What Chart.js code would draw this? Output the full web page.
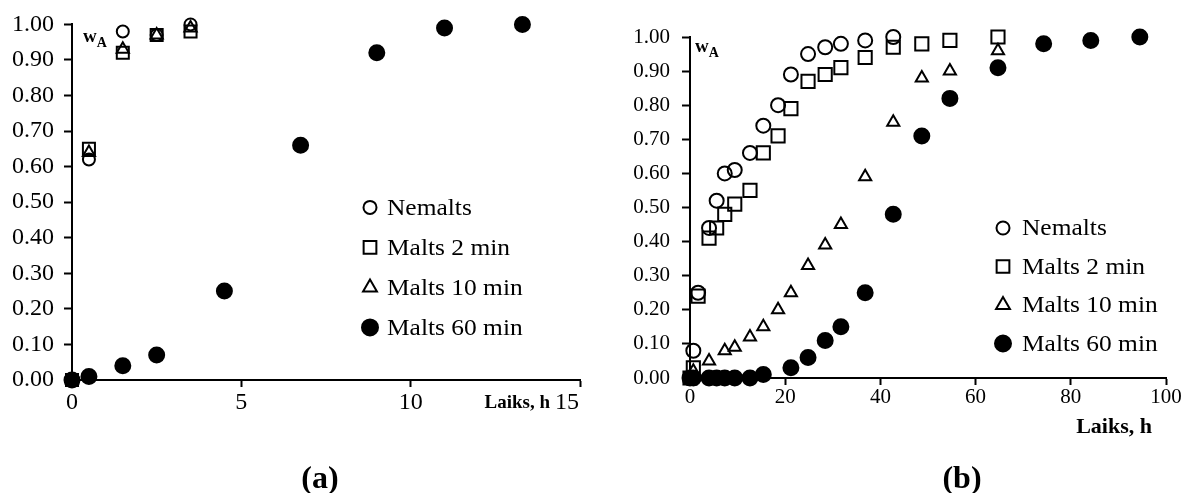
<!DOCTYPE html>
<html>
<head>
<meta charset="utf-8">
<title>Laiks, h</title>
<script src="https://cdn.jsdelivr.net/npm/chart.js@4.4.1/dist/chart.umd.min.js"></script>
<style>
  body { margin: 0; background: #fff; }
  #wrap { position: relative; width: 1185px; height: 493px; overflow: hidden; }
  .panel { position: absolute; top: 0; height: 493px; }
  #panelA { left: 0; width: 600px; }
  #panelB { left: 600px; width: 585px; }
  .caption {
    position: absolute; top: 477px; transform: translate(-50%, -50%);
    font: bold 32px "Liberation Serif", "Times New Roman", serif; color: #000;
  }
</style>
</head>
<body>
<div id="wrap">
  <div class="panel" id="panelA"><canvas id="chartA"></canvas></div>
  <div class="panel" id="panelB"><canvas id="chartB"></canvas></div>
  <div class="caption" style="left:320px">(a)</div>
  <div class="caption" style="left:962px">(b)</div>
</div>
<script>
const seriesNames = ["Nemalts", "Malts 2 min", "Malts 10 min", "Malts 60 min"];

// (a) laiks, h
const timeA = [0, 0.5, 1.5, 2.5, 3.5, 4.5, 6.75, 9, 11, 13.3];
const nemaltsA = [0, 0.62, 0.98, 0.97, 1.00, null, null, null, null, null];
const malts2A = [0, 0.65, 0.92, 0.97, 0.98, null, null, null, null, null];
const malts10A = [0, 0.64, 0.93, 0.97, 0.99, null, null, null, null, null];
const malts60A = [0, 0.01, 0.04, 0.07, null, 0.25, 0.66, 0.92, 0.99, 1.00];

// (b) laiks, h
const timeB = [0, 0.7, 1.7, 4, 5.6, 7.3, 9.4, 12.6, 15.4, 18.5, 21.2, 24.8, 28.4, 31.7, 36.8, 42.7, 48.7, 54.6, 64.7, 74.3, 84.2, 94.5];
const nemaltsB = [0, 0.08, 0.25, 0.44, 0.52, 0.60, 0.61, 0.66, 0.74, 0.80, 0.89, 0.95, 0.97, 0.98, 0.99, 1.00, null, null, null, null, null, null];
const malts2B = [0, 0.03, 0.24, 0.41, 0.44, 0.48, 0.51, 0.55, 0.66, 0.71, 0.79, 0.87, 0.89, 0.91, 0.94, 0.97, 0.98, 0.99, 1.00, null, null, null];
const malts10B = [0, 0.02, null, 0.05, null, 0.08, 0.09, 0.12, 0.15, 0.20, 0.25, 0.33, 0.39, 0.45, 0.59, 0.75, 0.88, 0.90, 0.96, null, null, null];
const malts60B = [0, 0, null, 0, 0, 0, 0, 0, 0.01, null, 0.03, 0.06, 0.11, 0.15, 0.25, 0.48, 0.71, 0.82, 0.91, 0.98, 0.99, 1.00];

const serif = '"Liberation Serif", "Times New Roman", serif';
const markers = [
  { pointStyle: "circle", fill: "rgba(0,0,0,0)" },
  { pointStyle: "rect", fill: "rgba(0,0,0,0)" },
  { pointStyle: "triangle", fill: "rgba(0,0,0,0)" },
  { pointStyle: "circle", fill: "#000" },
];

// w_A label, x-axis title and the legend drawn inside the plot
const notes = {
  id: "notes",
  afterDraw(chart, args, o) {
    const ctx = chart.ctx, a = chart.chartArea;
    ctx.save();
    ctx.fillStyle = "#000";
    ctx.textBaseline = "middle";
    ctx.textAlign = "left";
    ctx.font = "bold " + o.wSize + "px " + serif;
    ctx.fillText("w", a.left + o.wA[0], a.top + o.wA[1]);
    const ww = ctx.measureText("w").width;
    ctx.font = "bold " + Math.round(o.wSize * 0.75) + "px " + serif;
    ctx.fillText("A", a.left + o.wA[0] + ww, a.top + o.wA[1] + 6);

    ctx.textAlign = "right";
    let right = a.right + o.title.dx;
    if (o.title.tail) {
      ctx.font = o.tickSize + "px " + serif;
      ctx.fillText(o.title.tail, right, a.bottom + o.title.dy);
      right -= ctx.measureText(o.title.tail).width + 5;
    }
    ctx.font = "bold " + o.title.size + "px " + serif;
    ctx.fillText("Laiks, h", right, a.bottom + o.title.dy);

    const lg = o.legend;
    ctx.textAlign = "left";
    chart.data.datasets.forEach((ds, i) => {
      const x = a.left + lg.x, y = a.top + lg.y + i * lg.gap;
      ctx.fillStyle = ds.backgroundColor;
      ctx.strokeStyle = "#000";
      ctx.lineWidth = 2;
      Chart.helpers.drawPoint(ctx, { pointStyle: ds.pointStyle, radius: lg.radius[i], rotation: 0, borderWidth: 2 }, x, y);
      ctx.fillStyle = "#000";
      ctx.font = lg.size + "px " + serif;
      // legend text is a little wider than the plain face
      ctx.save();
      ctx.translate(x + lg.textGap, y + 1);
      ctx.scale(1.06, 1);
      ctx.fillText(ds.label, 0, 0);
      ctx.restore();
    });
    ctx.restore();
  }
};

function makeChart(id, times, series, cfg) {
  const datasets = series.map((vals, i) => ({
    label: seriesNames[i],
    data: times.map((t, j) => ({ x: t, y: vals[j] })).filter(p => p.y !== null),
    pointStyle: markers[i].pointStyle,
    backgroundColor: markers[i].fill,
    borderColor: "#000",
    borderWidth: 2,
    pointRadius: cfg.radius[i],
    pointHoverRadius: cfg.radius[i],
    showLine: false,
    clip: false,
    order: 3 - i,
  }));
  const axisCommon = {
    border: { display: true, color: "#000", width: 2 },
    grid: { drawOnChartArea: false, drawTicks: true, tickLength: 7, tickWidth: 2, tickColor: "#000" },
  };
  return new Chart(document.getElementById(id), {
    type: "scatter",
    data: { datasets },
    plugins: [notes],
    options: {
      responsive: true,
      maintainAspectRatio: false,
      animation: false,
      events: [],
      layout: { padding: { top: cfg.top, right: cfg.right, bottom: 0, left: 0 } },
      plugins: {
        legend: { display: false },
        tooltip: { enabled: false },
        notes: cfg.notes,
      },
      scales: {
        x: {
          ...axisCommon,
          type: "linear",
          min: 0,
          max: cfg.xMax,
          ticks: {
            stepSize: cfg.xStep,
            color: "#000",
            padding: cfg.xPad,
            maxRotation: 0,
            font: { family: serif, size: cfg.tickSize },
            callback: v => (v === cfg.xHide ? "" : v),
          },
          afterFit: s => { s.height = cfg.xHeight; },
        },
        y: {
          ...axisCommon,
          grid: { ...axisCommon.grid, tickLength: 8 },
          min: 0,
          max: 1,
          ticks: {
            stepSize: 0.1,
            color: "#000",
            padding: cfg.yPad,
            font: { family: serif, size: cfg.tickSize },
            callback: v => v.toFixed(2),
          },
          afterFit: s => { s.width = cfg.yWidth; },
        },
      },
    },
  });
}

makeChart("chartA", timeA, [nemaltsA, malts2A, malts10A, malts60A], {
  radius: [6, 8.5, 7, 7.5],
  top: 21, right: 20, yWidth: 72, xHeight: 113,
  xMax: 15, xStep: 5, xHide: 15, xPad: 1, yPad: 10, tickSize: 24,
  notes: {
    wA: [11, 13], wSize: 19, tickSize: 24,
    title: { dx: -1, dy: 23, size: 19, tail: "15" },
    legend: { x: 298, y: 183, gap: 40, textGap: 17, size: 24, radius: [6.5, 9, 8, 8] },
  },
});

makeChart("chartB", timeB, [nemaltsB, malts2B, malts10B, malts60B], {
  radius: [7, 9.3, 7, 7.5],
  top: 37, right: 19, yWidth: 90, xHeight: 115,
  xMax: 100, xStep: 20, xHide: null, xPad: 0, yPad: 12, tickSize: 21,
  notes: {
    wA: [5, 10], wSize: 19, tickSize: 21,
    title: { dx: -14, dy: 49, size: 22, tail: null },
    legend: { x: 313, y: 191, gap: 38.5, textGap: 19, size: 24, radius: [6.5, 9, 8, 8] },
  },
});
</script>
</body>
</html>
